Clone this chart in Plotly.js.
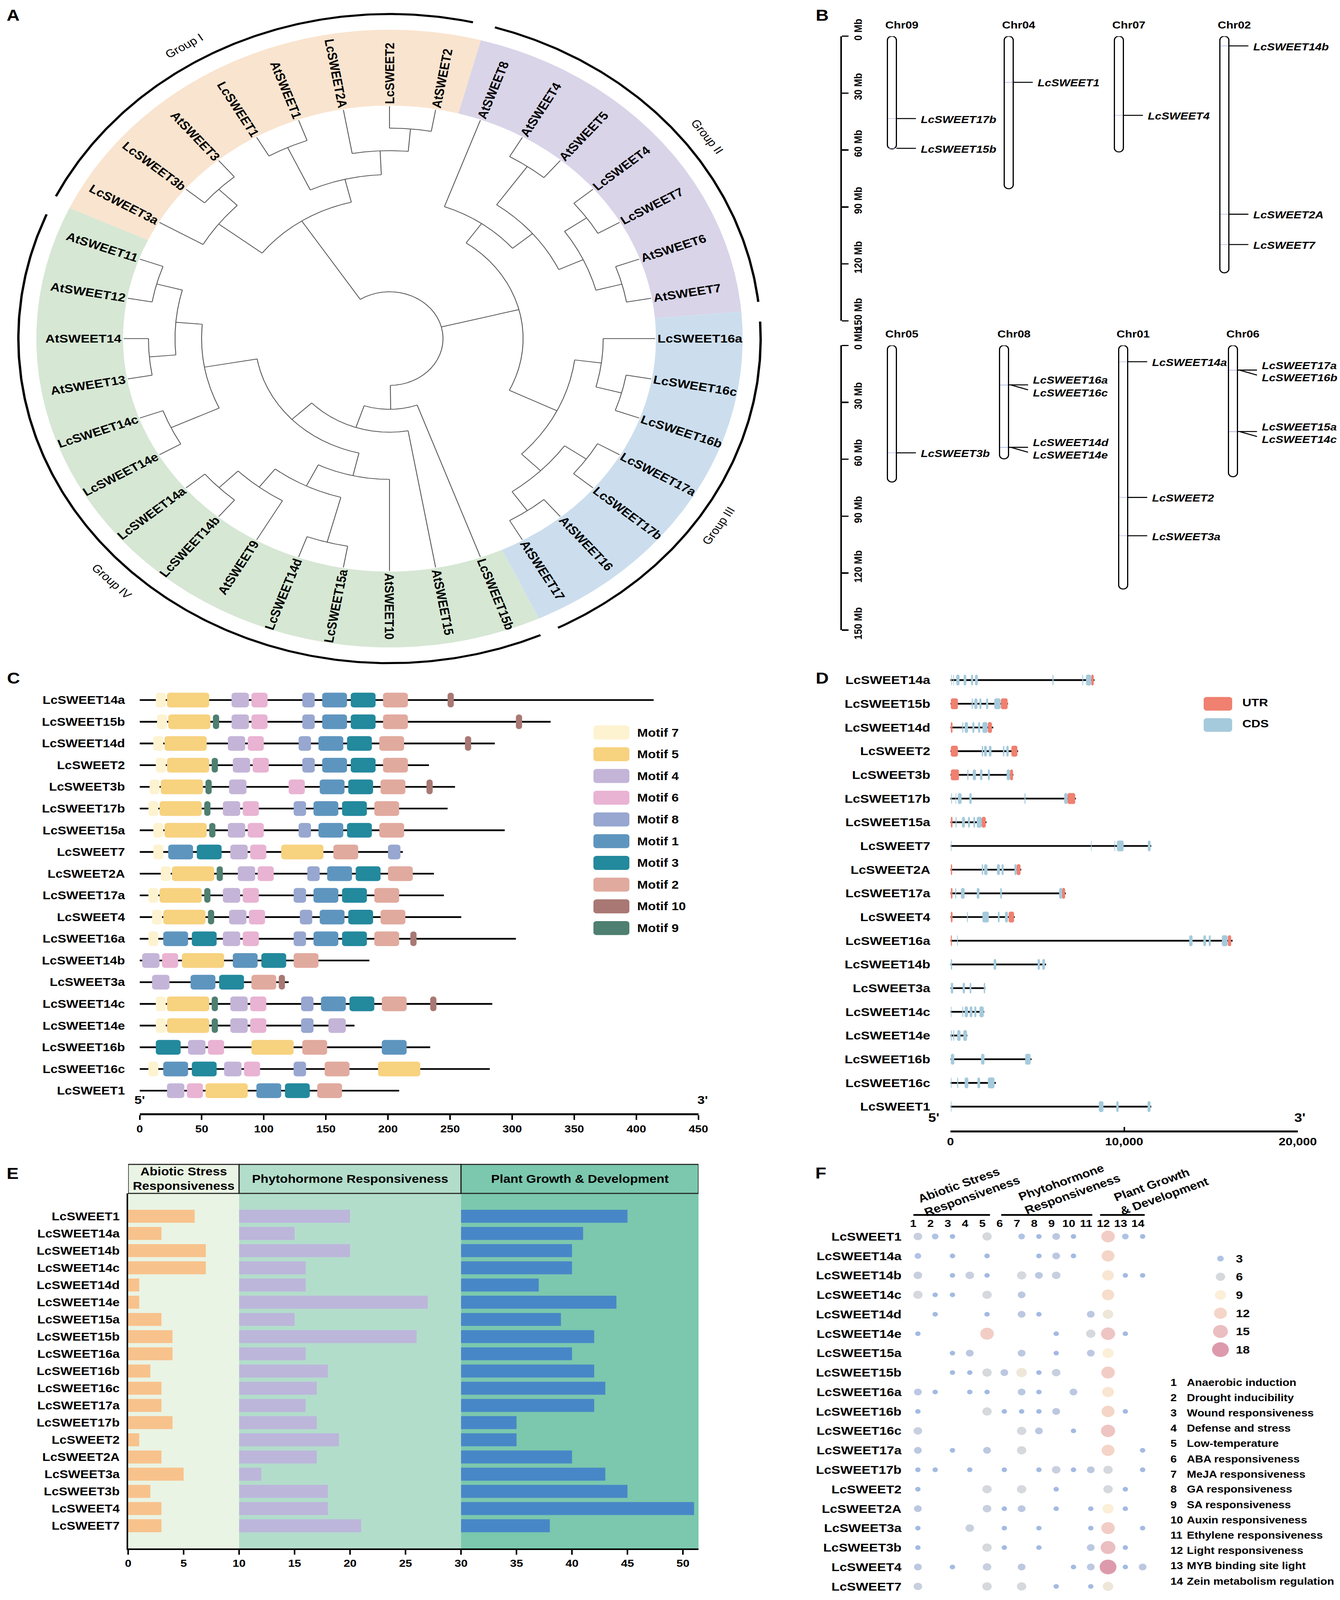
<!DOCTYPE html>
<html>
<head>
<meta charset="utf-8">
<script src="https://cdn.plot.ly/plotly-3.0.1.min.js"></script>
<style>html,body{margin:0;padding:0;background:#fff;overflow:hidden}</style>
</head>
<body>
<div id="fig" style="width:3430px;height:4683px"></div>
<script>
var W = 3430, H = 4683;
var FONT = 'Liberation Sans, Arial, Helvetica, sans-serif';

// ---------------- A: tree (node = [radius, children...], leaves clockwise from LcSWEET3a)
var treeData = [137,
  [411,
    [551, 'LcSWEET3a', [618, 'LcSWEET3b', 'AtSWEET3']],
    [480, [617, 'LcSWEET1', 'AtSWEET1'], [550, 'LcSWEET2A', [616, 'LcSWEET2', 'AtSWEET2']]]],
  [342,
    [411, 'AtSWEET8', [478, [615, 'AtSWEET4', 'AtSWEET5'], [547, [616, 'LcSWEET4', 'LcSWEET7'], [616, 'AtSWEET6', 'AtSWEET7']]]],
    [478, [547, 'LcSWEET16a', [615, 'LcSWEET16c', 'LcSWEET16b']], [547, [615, 'LcSWEET17a', 'LcSWEET17b'], [615, 'AtSWEET16', 'AtSWEET17']]]],
  [207, 'LcSWEET15b', [274, 'AtSWEET15', [344,
    [412, 'AtSWEET10', [481, [617, 'LcSWEET15a', 'LcSWEET14d'], [548, 'AtSWEET9', [617, 'LcSWEET14b', 'LcSWEET14a']]]],
    [481, [617, 'LcSWEET14e', 'LcSWEET14c'], [549, [617, 'AtSWEET13', 'AtSWEET14'], [617, 'AtSWEET12', 'AtSWEET11']]]]]]
];
var groupNames = ['Group I', 'Group II', 'Group III', 'Group IV'];
var bandFrom = [205, 285, 355, 425];
var bandTo = [285, 355, 425, 565];
var bandColors = ['#F9E4CF', '#D9D4E8', '#CCDEEE', '#D6E7D4'];
var groupArcFrom = [206, 286.5, 357, 426];
var groupArcTo = [283, 353.5, 423, 562.5];
var groupLabelAt = [238.5, 324, 393, 495];

// ---------------- B: chromosomes
var chromNames = ['Chr09', 'Chr04', 'Chr07', 'Chr02', 'Chr05', 'Chr08', 'Chr01', 'Chr06'];
var chromLenMb = [59.4, 80.4, 61.0, 124.7, 72.0, 59.8, 128.4, 69.2];
var geneNamesB = ['LcSWEET17b', 'LcSWEET15b', 'LcSWEET1', 'LcSWEET4', 'LcSWEET14b', 'LcSWEET2A', 'LcSWEET7',
  'LcSWEET3b', 'LcSWEET16a', 'LcSWEET16c', 'LcSWEET14d', 'LcSWEET14e', 'LcSWEET14a', 'LcSWEET2', 'LcSWEET3a',
  'LcSWEET17a', 'LcSWEET16b', 'LcSWEET15a', 'LcSWEET14c'];
var geneChrom = ['Chr09', 'Chr09', 'Chr04', 'Chr07', 'Chr02', 'Chr02', 'Chr02',
  'Chr05', 'Chr08', 'Chr08', 'Chr08', 'Chr08', 'Chr01', 'Chr01', 'Chr01',
  'Chr06', 'Chr06', 'Chr06', 'Chr06'];
var genePosMb = [43.4, 59.1, 24.3, 41.7, 5.1, 93.8, 109.8, 56.6, 20.8, 20.9, 53.7, 53.8, 8.6, 80.1, 100.3, 13.0, 13.1, 45.4, 45.5];
var mbTicks = [0, 30, 60, 90, 120, 150];

// ---------------- C: motifs
var motifProteins = ['LcSWEET14a', 'LcSWEET15b', 'LcSWEET14d', 'LcSWEET2', 'LcSWEET3b', 'LcSWEET17b', 'LcSWEET15a',
  'LcSWEET7', 'LcSWEET2A', 'LcSWEET17a', 'LcSWEET4', 'LcSWEET16a', 'LcSWEET14b', 'LcSWEET3a', 'LcSWEET14c',
  'LcSWEET14e', 'LcSWEET16b', 'LcSWEET16c', 'LcSWEET1'];
var proteinLenAA = [414, 331, 286, 233, 254, 248, 294, 212, 237, 245, 259, 303, 185, 120, 284, 173, 234, 282, 209];
var motifHits = [
  [[7, 13], [5, 22], [4, 74], [6, 90], [8, 131], [1, 147], [3, 170], [2, 196], [10, 248]],
  [[7, 14], [5, 23], [9, 59], [4, 74], [6, 90], [8, 131], [1, 147], [3, 170], [2, 196], [10, 303]],
  [[7, 11], [5, 20], [4, 71], [6, 87], [8, 128], [1, 144], [3, 167], [2, 193], [10, 262]],
  [[7, 13], [5, 22], [9, 58], [4, 75], [6, 91], [8, 131], [1, 147], [3, 170], [2, 196]],
  [[7, 8], [5, 17], [9, 53], [4, 72], [6, 120], [1, 145], [3, 168], [2, 194], [10, 231]],
  [[7, 7], [5, 16], [9, 52], [4, 67], [6, 83], [8, 124], [1, 140], [3, 163], [2, 189]],
  [[7, 11], [5, 20], [9, 56], [4, 71], [6, 87], [8, 128], [1, 144], [3, 167], [2, 193]],
  [[7, 11], [1, 23], [3, 46], [4, 73], [6, 89], [5, 114], [2, 156], [8, 200]],
  [[7, 17], [5, 26], [9, 62], [4, 79], [6, 95], [8, 135], [1, 151], [3, 174], [2, 200]],
  [[7, 7], [5, 16], [9, 52], [4, 67], [6, 83], [8, 124], [1, 140], [3, 163], [2, 189]],
  [[7, 10], [5, 19], [9, 55], [4, 72], [6, 88], [8, 129], [1, 145], [3, 168], [2, 194]],
  [[7, 7], [1, 19], [3, 42], [4, 67], [6, 83], [8, 124], [1, 140], [3, 163], [2, 189], [10, 218]],
  [[4, 2], [6, 18], [5, 34], [1, 75], [3, 98], [2, 124]],
  [[4, 10], [1, 41], [3, 64], [2, 90], [10, 112]],
  [[7, 13], [5, 22], [9, 58], [4, 73], [6, 89], [8, 130], [1, 146], [3, 169], [2, 195], [10, 234]],
  [[7, 13], [5, 22], [9, 58], [4, 73], [6, 89], [8, 130], [4, 152]],
  [[3, 13], [4, 39], [6, 55], [5, 90], [2, 131], [1, 195]],
  [[7, 7], [1, 19], [3, 42], [4, 68], [6, 84], [8, 124], [2, 149], [5, 192]],
  [[4, 22], [6, 38], [5, 53], [1, 94], [3, 117], [2, 143]]
];
var motifIds = [7, 5, 4, 6, 8, 1, 3, 2, 10, 9];
var motifColors = ['#FDF3D0', '#F7D27F', '#C4B5D8', '#E9B3D3', '#98A7D0', '#5E95BF', '#23899D', '#E1AA9E', '#A97874', '#4E7F70'];
var motifWidthAA = [8, 34, 14, 13, 10, 20, 20, 20, 5, 5];

// ---------------- D: gene structures
var geneStructNames = ['LcSWEET14a', 'LcSWEET15b', 'LcSWEET14d', 'LcSWEET2', 'LcSWEET3b', 'LcSWEET17b', 'LcSWEET15a',
  'LcSWEET7', 'LcSWEET2A', 'LcSWEET17a', 'LcSWEET4', 'LcSWEET16a', 'LcSWEET14b', 'LcSWEET3a', 'LcSWEET14c',
  'LcSWEET14e', 'LcSWEET16b', 'LcSWEET16c', 'LcSWEET1'];
var geneLenBp = [8290, 3310, 2460, 3890, 3620, 7220, 2070, 11560, 4070, 6640, 3700, 16240, 5500, 2010, 1940, 970, 4665, 2610, 11560];
var geneFeatures = [
  [['C', 40, 80], ['C', 155, 195], ['C', 330, 520], ['C', 755, 910], ['C', 1180, 1300], ['C', 1410, 1570], ['C', 5870, 5930], ['C', 7590, 7640], ['C', 7800, 8110], ['U', 8110, 8250]],
  [['U', 20, 425], ['C', 1220, 1280], ['C', 1375, 1550], ['C', 1665, 1780], ['C', 2050, 2170], ['C', 2520, 2885], ['U', 2905, 3290]],
  [['U', 20, 115], ['C', 680, 735], ['C', 815, 1010], ['C', 1260, 1375], ['C', 1590, 1705], ['C', 1840, 2130], ['U', 2150, 2385]],
  [['U', 20, 425], ['C', 1800, 1880], ['C', 1935, 2090], ['C', 2205, 2360], ['C', 3020, 3100], ['C', 3215, 3350], ['U', 3505, 3850]],
  [['U', 20, 485], ['C', 970, 1030], ['C', 1280, 1470], ['C', 1700, 1840], ['C', 2150, 2265], ['C', 3235, 3430], ['U', 3430, 3600]],
  [['C', 40, 90], ['C', 290, 330], ['C', 425, 640], ['C', 1085, 1220], ['C', 4260, 4320], ['C', 6545, 6740], ['U', 6740, 7180]],
  [['U', 20, 115], ['C', 290, 350], ['C', 660, 830], ['C', 1005, 1120], ['C', 1315, 1415], ['C', 1510, 1800], ['U', 1800, 2030]],
  [['C', 20, 60], ['C', 8090, 8130], ['C', 9440, 9480], ['C', 9580, 9970], ['C', 11365, 11520]],
  [['U', 20, 95], ['C', 1800, 1880], ['C', 1935, 2130], ['C', 2670, 2845], ['C', 2940, 3060], ['C', 3680, 3815], ['U', 3815, 4030]],
  [['U', 20, 115], ['C', 270, 330], ['C', 600, 815], ['C', 1510, 1665], ['C', 2865, 2960], ['C', 6255, 6450], ['U', 6430, 6600]],
  [['U', 20, 115], ['C', 950, 1000], ['C', 1840, 2205], ['C', 2730, 2825], ['C', 3135, 3310], ['U', 3350, 3660]],
  [['U', 20, 80], ['C', 375, 420], ['C', 13745, 13940], ['C', 14560, 14715], ['C', 14870, 14985], ['C', 15625, 15950], ['U', 15970, 16165]],
  [['C', 20, 95], ['C', 2480, 2635], ['C', 5015, 5150], ['C', 5285, 5440]],
  [['C', 20, 155], ['C', 700, 830], ['C', 1105, 1200], ['C', 1915, 1995]],
  [['C', 20, 60], ['C', 680, 735], ['C', 815, 1005], ['C', 1105, 1260], ['C', 1375, 1490], ['C', 1665, 1915]],
  [['C', 20, 75], ['C', 155, 215], ['C', 385, 580], ['C', 735, 950]],
  [['C', 20, 215], ['C', 1760, 1955], ['C', 4300, 4610]],
  [['C', 20, 60], ['C', 385, 445], ['C', 815, 1025], ['C', 1550, 1705], ['C', 2150, 2535]],
  [['C', 20, 60], ['C', 8540, 8810], ['C', 9545, 9680], ['C', 11345, 11520]]
];

// ---------------- E / F: cis-elements
var cisGenes = ['LcSWEET1', 'LcSWEET14a', 'LcSWEET14b', 'LcSWEET14c', 'LcSWEET14d', 'LcSWEET14e', 'LcSWEET15a',
  'LcSWEET15b', 'LcSWEET16a', 'LcSWEET16b', 'LcSWEET16c', 'LcSWEET17a', 'LcSWEET17b', 'LcSWEET2', 'LcSWEET2A',
  'LcSWEET3a', 'LcSWEET3b', 'LcSWEET4', 'LcSWEET7'];
var abioticCount = [6, 3, 7, 7, 1, 1, 3, 4, 4, 2, 3, 3, 4, 1, 3, 5, 2, 3, 3];
var hormoneCount = [10, 5, 10, 6, 6, 17, 5, 16, 6, 8, 7, 6, 7, 9, 7, 2, 8, 8, 11];
var growthCount = [15, 11, 10, 10, 7, 14, 9, 12, 10, 12, 13, 12, 5, 5, 10, 13, 15, 21, 8];
var categoryNames = ['Abiotic Stress<br>Responsiveness', 'Phytohormone Responsiveness', 'Plant Growth & Development'];
var categoryBase = [0, 10, 30];
var elementNames = ['Anaerobic induction', 'Drought inducibility', 'Wound responsiveness', 'Defense and stress',
  'Low-temperature', 'ABA responsiveness', 'MeJA responsiveness', 'GA responsiveness', 'SA responsiveness',
  'Auxin responsiveness', 'Ethylene responsiveness', 'Light responsiveness', 'MYB binding site light',
  'Zein metabolism regulation'];
var elementCounts = [
  [5, 3, 2, 0, 6, 0, 3, 2, 4, 2, 0, 13, 3, 2],
  [3, 0, 2, 0, 2, 0, 0, 2, 4, 2, 0, 12, 0, 0],
  [5, 0, 2, 5, 2, 0, 6, 4, 5, 0, 0, 10, 2, 2],
  [6, 2, 2, 0, 6, 0, 4, 0, 0, 0, 0, 11, 0, 0],
  [0, 2, 0, 0, 2, 0, 4, 2, 0, 0, 4, 8, 0, 0],
  [2, 0, 0, 0, 13, 0, 0, 0, 2, 0, 6, 14, 2, 0],
  [0, 0, 2, 4, 0, 0, 4, 0, 2, 0, 4, 9, 0, 0],
  [0, 0, 2, 2, 6, 4, 8, 2, 5, 0, 0, 13, 0, 0],
  [4, 2, 0, 2, 2, 0, 4, 2, 0, 4, 0, 10, 0, 0],
  [2, 0, 0, 0, 6, 2, 2, 2, 4, 0, 0, 12, 2, 0],
  [5, 0, 0, 0, 0, 0, 6, 4, 0, 2, 0, 14, 0, 0],
  [4, 0, 2, 0, 4, 0, 6, 0, 0, 0, 0, 12, 0, 2],
  [2, 2, 0, 2, 0, 2, 0, 2, 5, 2, 4, 6, 0, 2],
  [2, 0, 0, 0, 6, 0, 6, 0, 2, 0, 0, 6, 2, 0],
  [4, 0, 0, 0, 5, 2, 4, 0, 2, 0, 2, 9, 2, 0],
  [2, 0, 0, 5, 0, 2, 0, 2, 0, 0, 2, 13, 0, 2],
  [2, 0, 0, 0, 6, 2, 0, 2, 0, 0, 4, 15, 2, 0],
  [4, 0, 2, 0, 5, 0, 4, 0, 0, 2, 4, 18, 2, 4],
  [5, 0, 0, 0, 6, 0, 6, 0, 2, 0, 2, 8, 0, 0]
];
var sizeLegendValues = [3, 6, 9, 12, 15, 18];

// ================= helpers
var data = [], shapes = [], annotations = [];
function font(size, weight, style) {
  var f = {family: FONT, size: size, color: '#000', weight: weight || 'normal'};
  if (style) f.style = style;
  return f;
}
function domX(a, b) { return [a / W, b / W]; }
function domY(top, bottom) { return [1 - bottom / H, 1 - top / H]; }
function px(x) { return x / W; }
function py(y) { return 1 - y / H; }
function ann(o) { annotations.push(Object.assign({showarrow: false}, o)); }
function rrPath(x0, x1, y0, y1, rx, ry) {
  rx = Math.min(rx, (x1 - x0) / 2); ry = Math.min(ry, Math.abs(y1 - y0) / 2);
  var k = 0.4477;
  return 'M' + (x0 + rx) + ',' + y0 + ' L' + (x1 - rx) + ',' + y0 +
    ' C' + (x1 - rx * k) + ',' + y0 + ' ' + x1 + ',' + (y0 + ry * k) + ' ' + x1 + ',' + (y0 + ry) +
    ' L' + x1 + ',' + (y1 - ry) +
    ' C' + x1 + ',' + (y1 - ry * k) + ' ' + (x1 - rx * k) + ',' + y1 + ' ' + (x1 - rx) + ',' + y1 +
    ' L' + (x0 + rx) + ',' + y1 +
    ' C' + (x0 + rx * k) + ',' + y1 + ' ' + x0 + ',' + (y1 - ry * k) + ' ' + x0 + ',' + (y1 - ry) +
    ' L' + x0 + ',' + (y0 + ry) +
    ' C' + x0 + ',' + (y0 + ry * k) + ' ' + (x0 + rx * k) + ',' + y0 + ' ' + (x0 + rx) + ',' + y0 + ' Z';
}
var meas = document.createElement('canvas').getContext('2d');

// ================= A
var cx = 997, cy = 991, tipR = 680, labR = 686, bandIn = 682, bandOut = 904, arcR = 950;
function pt(r, t) { var a = t * Math.PI / 180; return [cx + r * Math.cos(a), cy + r * Math.sin(a)]; }
function arcPts(r, t0, t1, xs, ys) {
  var n = Math.max(2, Math.ceil(Math.abs(t1 - t0) / 0.5));
  for (var i = 0; i <= n; i++) { var p = pt(r, t0 + (t1 - t0) * i / n); xs.push(p[0]); ys.push(p[1]); }
}
var treeX = [], treeY = [], leaves = [];
function placeNode(node) {
  if (typeof node === 'string') {
    var t = 210 + 10 * leaves.length;
    leaves.push({name: node, t: t});
    return {t: t, r: tipR};
  }
  var r = node[0];
  var kids = node.slice(1).map(placeNode);
  var t0 = kids[0].t, t1 = kids[kids.length - 1].t;
  arcPts(r, t0, t1, treeX, treeY); treeX.push(null); treeY.push(null);
  kids.forEach(function (k) {
    var a = pt(r, k.t), b = pt(k.r, k.t);
    treeX.push(a[0], b[0], null); treeY.push(a[1], b[1], null);
  });
  return {t: (t0 + t1) / 2, r: r};
}
placeNode(treeData);

groupNames.forEach(function (g, i) {
  var xs = [], ys = [];
  arcPts(bandOut, bandFrom[i], bandTo[i], xs, ys);
  arcPts(bandIn, bandTo[i], bandFrom[i], xs, ys);
  data.push({type: 'scatter', mode: 'lines', x: xs, y: ys, fill: 'toself', fillcolor: bandColors[i],
    line: {width: 0, color: bandColors[i]}, hoverinfo: 'skip', xaxis: 'x', yaxis: 'y'});
});
data.push({type: 'scatter', mode: 'lines', x: treeX, y: treeY, line: {color: '#555', width: 2.2},
  hoverinfo: 'skip', xaxis: 'x', yaxis: 'y'});
groupNames.forEach(function (g, i) {
  var xs = [], ys = [];
  arcPts(arcR, groupArcFrom[i], groupArcTo[i], xs, ys);
  data.push({type: 'scatter', mode: 'lines', x: xs, y: ys, line: {color: '#000', width: 6},
    hoverinfo: 'skip', xaxis: 'x', yaxis: 'y'});
  var th = groupLabelAt[i] % 360;
  var ang = Math.sin(th * Math.PI / 180) < 0 ? th + 90 : th - 90;
  if (ang > 180) ang -= 360;
  var p = pt(1005, groupLabelAt[i]);
  ann({x: p[0], y: p[1], xref: 'x', yref: 'y', text: g, textangle: ang, xanchor: 'center', yanchor: 'middle',
    font: font(32, 'normal')});
});
meas.font = 'bold 34px "Liberation Sans", Arial, sans-serif';
leaves.forEach(function (lf) {
  var th = lf.t % 360;
  var right = (th >= 270 || th <= 90);
  var ang = right ? (th > 180 ? th - 360 : th) : th - 180;
  var w = meas.measureText(lf.name).width;
  var p = pt(labR + w / 2, lf.t);
  ann({x: p[0], y: p[1], xref: 'x', yref: 'y', text: lf.name, textangle: ang, xanchor: 'center', yanchor: 'middle',
    font: font(34, 'bold')});
});

// ================= B
var chromCenterPx = [2283, 2582, 2864, 3134, 2283, 2570, 2875, 3156];
var chromTitleY = [73, 977];
var pxPerMb = 166.67 / 30, chromHalf = 11.5;
chromNames.forEach(function (c, i) {
  var row = i < 4 ? 0 : 1, yr = row === 0 ? 'y2' : 'y3', xc = chromCenterPx[i];
  shapes.push({type: 'path', xref: 'x2', yref: yr, layer: 'below',
    path: rrPath(xc - chromHalf, xc + chromHalf, 0, chromLenMb[i], chromHalf, chromHalf / pxPerMb),
    fillcolor: '#fff', line: {color: '#000', width: 3}});
  ann({x: px(xc + 25), y: py(chromTitleY[row]), xref: 'paper', yref: 'paper', text: c,
    xanchor: 'center', yanchor: 'middle', font: font(30, 'bold')});
});
var connTraces = {y2: {x: [], y: []}, y3: {x: [], y: []}};
var markTraces = {y2: {x: [], y: []}, y3: {x: [], y: []}};
geneNamesB.forEach(function (g, i) {
  var ci = chromNames.indexOf(geneChrom[i]);
  var yr = ci < 4 ? 'y2' : 'y3', xc = chromCenterPx[ci], pos = genePosMb[i];
  var partner = -1;
  geneNamesB.forEach(function (h, j) { if (j !== i && geneChrom[j] === geneChrom[i] && Math.abs(genePosMb[j] - pos) < 1) partner = j; });
  var right = xc + chromHalf, labY;
  markTraces[yr].x.push(xc - chromHalf + 1.5, right - 1.5, null); markTraces[yr].y.push(pos, pos, null);
  if (partner >= 0 && partner < i) {
    connTraces[yr].x.push(right + 7, right + 50, null); connTraces[yr].y.push(pos, pos + 14 / pxPerMb, null);
    labY = pos + 22 / pxPerMb;
  } else {
    connTraces[yr].x.push(right, right + 50, null); connTraces[yr].y.push(pos, pos, null);
    labY = partner >= 0 ? pos - 14 / pxPerMb : pos + 2 / pxPerMb;
  }
  ann({x: right + 60, y: labY, xref: 'x2', yref: yr, text: g, xanchor: 'left', yanchor: 'middle',
    font: font(30, 'bold', 'italic')});
});
['y2', 'y3'].forEach(function (yr) {
  data.push({type: 'scatter', mode: 'lines', x: markTraces[yr].x, y: markTraces[yr].y,
    line: {color: '#A9B3E6', width: 1.5}, hoverinfo: 'skip', xaxis: 'x2', yaxis: yr});
  data.push({type: 'scatter', mode: 'lines', x: connTraces[yr].x, y: connTraces[yr].y,
    line: {color: '#000', width: 3}, hoverinfo: 'skip', xaxis: 'x2', yaxis: yr});
});

// ================= C
var cPxPerAA = (1787.7 - 357.5) / 450, cRowPx = 63.5;
var bbX = [], bbY = [];
motifProteins.forEach(function (p, i) {
  bbX.push(0, proteinLenAA[i], null); bbY.push(i, i, null);
  motifHits[i].forEach(function (h) {
    var k = motifIds.indexOf(h[0]);
    shapes.push({type: 'path', xref: 'x4', yref: 'y4',
      path: rrPath(h[1], h[1] + motifWidthAA[k], i - 0.339, i + 0.339, 8 / cPxPerAA, 8 / cRowPx),
      fillcolor: motifColors[k], line: {width: 0}});
  });
});
data.push({type: 'scatter', mode: 'lines', x: bbX, y: bbY, line: {color: '#000', width: 5},
  hoverinfo: 'skip', xaxis: 'x4', yaxis: 'y4'});
motifIds.forEach(function (m, k) {
  var yc = 2144 + 63.6 * k;
  shapes.push({type: 'path', xref: 'paper', yref: 'paper',
    path: rrPath(px(1519), px(1611), py(yc + 20.5), py(yc - 20.5), 8 / W, 8 / H),
    fillcolor: motifColors[k], line: {width: 0}});
  ann({x: px(1629), y: py(yc), xref: 'paper', yref: 'paper', text: 'Motif ' + m, xanchor: 'left',
    yanchor: 'middle', font: font(33, 'bold')});
});
ann({x: px(342), y: py(3240), xref: 'paper', yref: 'paper', text: "5'", font: font(34, 'bold')});
ann({x: px(1799), y: py(3240), xref: 'paper', yref: 'paper', text: "3'", font: font(34, 'bold')});

// ================= D
var dPxPerBp = (3322 - 2433) / 20000, dRowPx = 69.35;
var glX = [], glY = [];
geneStructNames.forEach(function (g, i) {
  glX.push(0, geneLenBp[i], null); glY.push(i, i, null);
  geneFeatures[i].forEach(function (f) {
    shapes.push({type: 'path', xref: 'x5', yref: 'y5',
      path: rrPath(f[1], f[2], i - 0.23, i + 0.23, 5 / dPxPerBp, 5 / dRowPx),
      fillcolor: f[0] === 'U' ? '#F08070' : '#A5CADC', line: {width: 0}});
  });
});
data.push({type: 'scatter', mode: 'lines', x: glX, y: glY, line: {color: '#000', width: 5},
  hoverinfo: 'skip', xaxis: 'x5', yaxis: 'y5'});
[['UTR', '#F08070', 2060], ['CDS', '#A5CADC', 2122]].forEach(function (l) {
  shapes.push({type: 'path', xref: 'paper', yref: 'paper',
    path: rrPath(px(3081), px(3154), py(l[2] + 20), py(l[2] - 20), 8 / W, 8 / H),
    fillcolor: l[1], line: {width: 0}});
  ann({x: px(3178), y: py(l[2] - 4), xref: 'paper', yref: 'paper', text: l[0], xanchor: 'left',
    yanchor: 'middle', font: font(32, 'bold')});
});
ann({x: px(2407), y: py(3294), xref: 'paper', yref: 'paper', text: "5'", font: font(36, 'bold')});
ann({x: px(3344), y: py(3294), xref: 'paper', yref: 'paper', text: "3'", font: font(36, 'bold')});

// ================= E
var eTop = 3493, eBottom = 4532, eHeadTop = 3408, eXmax = 51.4;
var eFill = ['#EAF4E4', '#B3DDCB', '#7BC8AE'];
var eBarColors = ['#F8C28C', '#BCB6DB', '#4887C7'];
var eCenters = [5, 20, 40.7];
categoryBase.forEach(function (b, k) {
  var x1 = k < 2 ? categoryBase[k + 1] : eXmax;
  shapes.push({type: 'rect', xref: 'x6', yref: 'paper', layer: 'below', x0: b, x1: x1,
    y0: py(eBottom), y1: py(eTop), fillcolor: eFill[k], line: {width: 0}});
  shapes.push({type: 'rect', xref: 'x6', yref: 'paper', x0: b, x1: x1,
    y0: py(eTop), y1: py(eHeadTop), fillcolor: eFill[k], line: {color: '#222', width: 3}});
  ann({x: eCenters[k], y: py(3450), xref: 'x6', yref: 'paper', text: categoryNames[k],
    xanchor: 'center', yanchor: 'middle', font: font(33, 'bold')});
});
[abioticCount, hormoneCount, growthCount].forEach(function (vals, k) {
  data.push({type: 'bar', orientation: 'h', x: vals, y: cisGenes.map(function (g, i) { return i; }),
    base: categoryBase[k], width: 0.755, marker: {color: eBarColors[k], line: {width: 0}},
    hoverinfo: 'skip', xaxis: 'x6', yaxis: 'y6'});
});

// ================= F
var fColorscale = [[0, '#7C9CD6'], [0.0625, '#8EA9D9'], [0.125, '#9FB1D4'], [0.25, '#C3C7CE'],
  [0.4375, '#F9E8C7'], [0.625, '#F0C3AF'], [0.8125, '#E3A2A6'], [1, '#CE6F8A']];
var sizeStops = [[2, 13.8], [3, 17], [4, 20], [6, 24], [9, 28.5], [12, 33], [15, 38], [18, 43]];
function bubbleSize(v) {
  for (var i = 1; i < sizeStops.length; i++) {
    if (v <= sizeStops[i][0]) {
      var a = sizeStops[i - 1], b = sizeStops[i];
      return a[1] + (b[1] - a[1]) * (v - a[0]) / (b[0] - a[0]);
    }
  }
  return 43;
}
var fx = [], fy = [], fv = [];
elementCounts.forEach(function (row, i) {
  row.forEach(function (v, j) { if (v > 0) { fx.push(j + 1); fy.push(i); fv.push(v); } });
});
data.push({type: 'scatter', mode: 'markers', x: fx, y: fy, hoverinfo: 'skip', xaxis: 'x7', yaxis: 'y7',
  marker: {size: fv.map(bubbleSize), color: fv, cmin: 2, cmax: 18, colorscale: fColorscale, line: {width: 0}}});
data.push({type: 'scatter', mode: 'markers', x: sizeLegendValues.map(function () { return 0.5; }), y: sizeLegendValues,
  hoverinfo: 'skip', xaxis: 'x8', yaxis: 'y8',
  marker: {size: sizeLegendValues.map(bubbleSize), color: sizeLegendValues, cmin: 2, cmax: 18,
    colorscale: fColorscale, line: {width: 0}}});
var fHeadSpan = [[0.74, 5.17], [5.82, 11.09], [11.54, 14.12]];
var fHeadText = ['Abiotic Stress<br>Responsiveness', 'Phytohormone<br>Responsiveness', 'Plant Growth<br>& Development'];
var fHeadCenter = [[2480, 3481], [2737, 3475], [2972, 3481]];
fHeadSpan.forEach(function (s, k) {
  shapes.push({type: 'line', xref: 'x7', yref: 'paper', x0: s[0], x1: s[1], y0: py(3556), y1: py(3556),
    line: {color: '#000', width: 5}});
  ann({x: px(fHeadCenter[k][0]), y: py(fHeadCenter[k][1]), xref: 'paper', yref: 'paper', text: fHeadText[k],
    textangle: -22, align: 'left', xanchor: 'center', yanchor: 'middle', font: font(33, 'bold')});
});
elementNames.forEach(function (e, i) {
  var yy = 4046 + 44.77 * i;
  ann({x: px(2994), y: py(yy), xref: 'paper', yref: 'paper', text: String(i + 1), xanchor: 'left',
    yanchor: 'middle', font: font(29, 'bold')});
  ann({x: px(3036), y: py(yy), xref: 'paper', yref: 'paper', text: e, xanchor: 'left',
    yanchor: 'middle', font: font(29, 'bold')});
});

// panel letters
[['A', 33, 45], ['B', 2104, 45], ['C', 34, 1985], ['D', 2104, 1985], ['E', 32, 3435], ['F', 2101, 3433]].forEach(function (l) {
  ann({x: px(l[1]), y: py(l[2]), xref: 'paper', yref: 'paper', text: l[0], xanchor: 'center', yanchor: 'middle',
    font: font(46, 'bold')});
});

// ================= axes
function hidden(domain, range, anchor) {
  return {domain: domain, range: range, anchor: anchor, visible: false, showgrid: false, zeroline: false, fixedrange: true};
}
function mbAxis(top, bottom) {
  return {domain: domY(top, bottom), range: [150, 0], anchor: 'free', position: 2153 / W, side: 'right',
    showline: true, linecolor: '#000', linewidth: 4, ticks: 'outside', ticklen: 17, tickwidth: 4, tickcolor: '#000',
    tickvals: mbTicks, ticktext: mbTicks.map(function (v) { return v + ' Mb'; }), tickangle: -90,
    tickfont: font(28, 'bold'), ticklabelshift: 15, showgrid: false, zeroline: false, fixedrange: true};
}
function nameAxis(domain, range, anchor, names, gap, size) {
  return {domain: domain, range: range, anchor: anchor, tickmode: 'array',
    tickvals: names.map(function (n, i) { return i; }), ticktext: names, ticks: 'outside', ticklen: gap,
    tickcolor: 'rgba(0,0,0,0)', tickfont: font(size, 'bold'), showgrid: false, zeroline: false, fixedrange: true};
}
var layout = {
  width: W, height: H, margin: {l: 0, r: 0, t: 0, b: 0}, paper_bgcolor: '#fff', plot_bgcolor: 'rgba(0,0,0,0)',
  showlegend: false, barmode: 'overlay', font: {family: FONT},
  xaxis: hidden(domX(0, 2000), [0, 2000], 'y'),
  yaxis: hidden(domY(0, 1950), [1950, 0], 'x'),
  xaxis2: hidden(domX(2080, 3430), [2080, 3430], 'y2'),
  yaxis2: mbAxis(106, 939),
  yaxis3: mbAxis(1011, 1844),
  xaxis4: {domain: domX(357.5, 1787.7), range: [0, 450], anchor: 'y4', showline: true, linecolor: '#000', linewidth: 5,
    ticks: 'outside', ticklen: 14, tickwidth: 4, tickcolor: '#000', tickvals: [0, 50, 100, 150, 200, 250, 300, 350, 400, 450],
    tickfont: font(30, 'bold'), showgrid: false, zeroline: false, fixedrange: true},
  yaxis4: nameAxis(domY(2010, 3259), [19.05, -0.614], 'x4', motifProteins, 30, 33),
  xaxis5: {domain: domX(2433, 3322), range: [0, 20000], anchor: 'y5', showline: true, linecolor: '#000', linewidth: 5,
    ticks: 'inside', ticklen: 10, tickwidth: 4, tickcolor: '#000', tickvals: [0, 10000, 20000], tickformat: ',d',
    tickfont: font(32, 'bold'), showgrid: false, zeroline: false, fixedrange: true},
  yaxis5: nameAxis(domY(1950, 3309), [19.01, -0.584], 'x5', geneStructNames, 44, 34),
  xaxis6: {domain: domX(328, 1788), range: [0, eXmax], anchor: 'y6', showline: true, linecolor: '#000', linewidth: 5,
    ticks: 'outside', ticklen: 13, tickwidth: 4, tickcolor: '#000', tickvals: [0, 5, 10, 15, 20, 25, 30, 35, 40, 45, 50],
    tickfont: font(30, 'bold'), showgrid: false, zeroline: false, fixedrange: true},
  yaxis6: Object.assign(nameAxis(domY(eTop, eBottom), [19.32, -1.33], 'x6', cisGenes, 11, 33),
    {showline: true, linecolor: '#000', linewidth: 4}),
  xaxis7: {domain: domX(2327.4, 2946.9), range: [0.5, 14.5], anchor: 'y7', side: 'top', tickmode: 'array',
    tickvals: [1, 2, 3, 4, 5, 6, 7, 8, 9, 10, 11, 12, 13, 14], ticks: '', ticklabelshift: -12,
    tickfont: font(30, 'bold'), showgrid: false, zeroline: false, showline: false, fixedrange: true},
  yaxis7: nameAxis(domY(3598, 4674), [18.54, -0.369], 'x7', cisGenes, 12, 34),
  xaxis8: hidden(domX(3100, 3148), [0, 1], 'y8'),
  yaxis8: {domain: domY(3657, 3977), range: [19.5, 1.5], anchor: 'x8', side: 'right', tickmode: 'array',
    tickvals: sizeLegendValues, ticks: 'outside', ticklen: 8, tickcolor: 'rgba(0,0,0,0)',
    tickfont: font(32, 'bold'), showgrid: false, zeroline: false, showline: false, fixedrange: true},
  shapes: shapes,
  annotations: annotations
};

// the window may be shorter than the figure; squeeze the picture vertically so it all shows
var fitY = Math.min(1, window.innerHeight / H);
var figDiv = document.getElementById('fig');
if (fitY < 1) {
  figDiv.style.transformOrigin = '0 0';
  figDiv.style.transform = 'scale(1,' + fitY + ')';
}
Plotly.newPlot('fig', data, layout, {staticPlot: true});
</script>
</body>
</html>
